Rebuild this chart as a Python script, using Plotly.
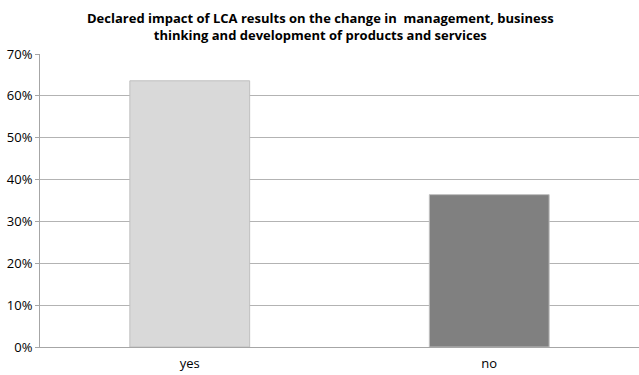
import plotly.graph_objects as go

categories = ["yes", "no"]
values = [0.636, 0.364]
bar_colors = ["#D9D9D9", "#808080"]
tick_vals = [0, 0.1, 0.2, 0.3, 0.4, 0.5, 0.6, 0.7]
tick_text = ["0%", "10%", "20%", "30%", "40%", "50%", "60%", "70%"]
title_text = ("Declared impact of LCA results on the change in  management, business<br>"
              "thinking and development of products and services")

fig = go.Figure(go.Bar(
    x=categories,
    y=values,
    marker=dict(color=bar_colors, line=dict(color="#BFBFBF", width=1)),
    width=0.4,
))

plot_top, plot_bottom, height = 54, 28, 375
plot_h = height - plot_top - plot_bottom

fig.update_layout(
    width=639, height=height,
    margin=dict(l=40, r=0, t=plot_top, b=plot_bottom),
    paper_bgcolor="white", plot_bgcolor="white",
    showlegend=False,
    font=dict(family="Open Sans", size=13, color="#000000"),
    annotations=[dict(
        text=title_text, xref="paper", yref="paper",
        x=(320 - 40) / 599, y=1 + (plot_top - 27) / plot_h,
        xanchor="center", yanchor="middle", showarrow=False,
        font=dict(family="Open Sans", size=13, color="#000000", weight="bold"),
        align="center",
    )],
)
fig.update_yaxes(
    range=[0, 0.7], tickvals=tick_vals, ticktext=tick_text,
    showgrid=True, gridcolor="#B3B3B3", gridwidth=1,
    showline=True, linecolor="#A6A6A6", linewidth=1,
    ticks="outside", ticklen=4, tickcolor="#A6A6A6",
    zeroline=False,
)
fig.update_xaxes(
    showline=True, linecolor="#A6A6A6", linewidth=1,
    ticks="outside", ticklen=4, tickcolor="rgba(0,0,0,0)",
    tickfont=dict(size=13),
)

fig.write_html("out.html")
